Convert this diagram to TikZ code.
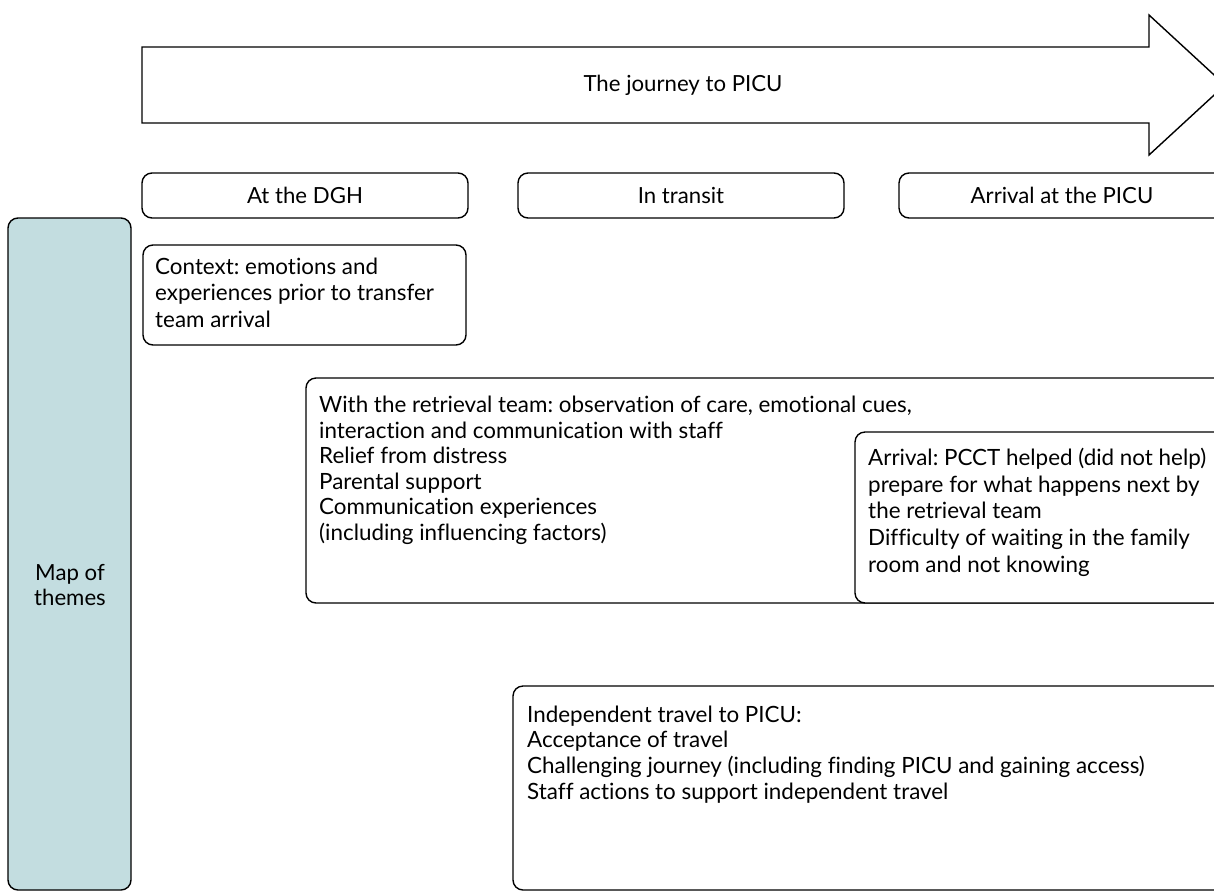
\documentclass[tikz,border=0pt]{standalone}
\usepackage{fontspec}
\setmainfont{Lato}[Ligatures={NoCommon,NoContextual}]
\frenchspacing
\begin{document}
\begin{tikzpicture}[x=1pt,y=-1pt,
  box/.style={draw=black,line width=1.4pt,rounded corners=10pt,fill=white},
  txt/.style={anchor=north west,align=left,inner sep=0pt,font=\fontsize{22.4}{25.6}\selectfont},
  txtb/.style={txt,font=\fontsize{22.4}{26.7}\selectfont},
  lbl/.style={font=\fontsize{22.2}{25.6}\selectfont,align=center}]
\useasboundingbox (0,0) rectangle (1214,892);
\definecolor{mapblue}{HTML}{C3DDE0}
% big arrow
\draw[line width=1.4pt,line join=miter] (142,47) -- (1149,47) -- (1149,15) -- (1225,85) -- (1149,155) -- (1149,123) -- (142,123) -- cycle;
\node[lbl] (journey) at (683,85) {The journey to PICU};
% phase boxes
\draw[box] (142,173) rectangle (468,218);
\node[lbl] (dgh) at (305,195.5) {At the DGH};
\draw[box] (518,173) rectangle (844,218);
\node[lbl] (transit) at (681,195.5) {In transit};
\draw[box] (899,173) rectangle (1226,218);
\node[lbl] (arr) at (1062,195.5) {Arrival at the PICU};
% map of themes
\draw[box,fill=mapblue] (8,218) rectangle (131,890);
\node[lbl] (map) at (70,585) {Map of\\themes};
% context
\draw[box] (143,245) rectangle (466,345);
\node[txtb] (context) at (155,256) {\rule{0pt}{18pt}Context: emotions and\\experiences prior to transfer\\team arrival};
% retrieval team
\draw[box] (306,378) rectangle (1230,603);
\node[txt] (retrieval) at (319,394.3) {\rule{0pt}{18pt}With the retrieval team: observation of care, emotional cues,\\interaction and communication with staff\\Relief from distress\\Parental support\\Communication experiences\\(including influencing factors)};
% arrival
\draw[box] (855,432) rectangle (1230,603);
\node[txtb] (arrival) at (868,447.3) {\rule{0pt}{18pt}Arrival: PCCT helped (did not help)\\prepare for what happens next by\\the retrieval team\\Difficulty of waiting in the family\\room and not knowing};
% independent travel
\draw[box] (513,686) rectangle (1230,890);
\node[txt] (indep) at (527,704) {\rule{0pt}{18pt}Independent travel to PICU:\\Acceptance of travel\\Challenging journey (including finding PICU and gaining access)\\Staff actions to support independent travel};
\end{tikzpicture}
\end{document}
